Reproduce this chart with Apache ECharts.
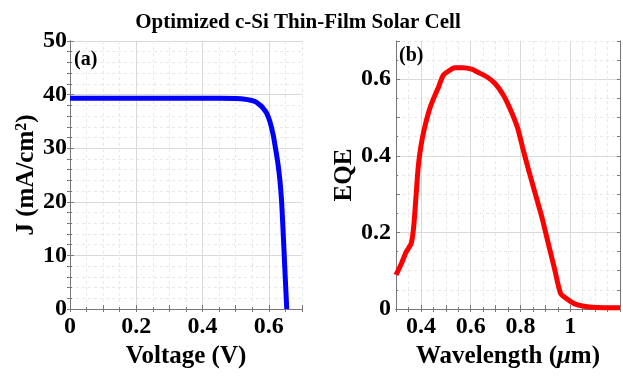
<!DOCTYPE html>
<html>
<head>
<meta charset="utf-8">
<script src="https://cdn.jsdelivr.net/npm/echarts@6/dist/echarts.min.js"></script>
<style>
  html, body { margin: 0; padding: 0; background: #fff; }
  #chart { width: 623px; height: 377px; }
</style>
</head>
<body>
<div id="chart"></div>
<script>
// J-V characteristic
const voltage = [0, 0.1, 0.2, 0.3, 0.4, 0.45, 0.5, 0.528, 0.545, 0.558, 0.568, 0.578, 0.586, 0.593, 0.603, 0.613, 0.620, 0.627, 0.633, 0.638, 0.643, 0.648, 0.654];
const currentDensity = [39.3, 39.3, 39.3, 39.3, 39.3, 39.3, 39.25, 39.15, 38.95, 38.7, 38.3, 37.8, 37.2, 36.6, 35.0, 32.5, 30.0, 27.3, 24.2, 20.5, 14.5, 7.8, 0];

// External quantum efficiency spectrum
const wavelength = [0.30, 0.322, 0.341, 0.361, 0.371, 0.380, 0.389, 0.399, 0.413, 0.432, 0.451, 0.471, 0.490, 0.510, 0.535, 0.568, 0.607, 0.627, 0.666, 0.698, 0.731, 0.763, 0.789, 0.809, 0.834, 0.860, 0.886, 0.912, 0.938, 0.961, 0.983, 1.016, 1.055, 1.106, 1.2];
const eqe = [0.089, 0.119, 0.149, 0.171, 0.214, 0.291, 0.369, 0.421, 0.468, 0.516, 0.550, 0.580, 0.611, 0.621, 0.630, 0.630, 0.626, 0.619, 0.606, 0.589, 0.559, 0.516, 0.472, 0.421, 0.360, 0.300, 0.240, 0.171, 0.102, 0.041, 0.028, 0.014, 0.007, 0.004, 0.003];

// Labelled tick values
const voltageTicks = [0, 0.2, 0.4, 0.6];
const currentTicks = [0, 10, 20, 30, 40, 50];
const wavelengthTicks = [0.4, 0.6, 0.8, 1];
const eqeTicks = [0, 0.2, 0.4, 0.6];

const FONT = '"Liberation Serif", "Times New Roman", serif';
const AXIS_COLOR = '#777';
const MAJOR = '#d9d9d9';
const MINOR = '#e8e8e8';
const NONE = 'rgba(0,0,0,0)';

function tickFormatter(ticks) {
  return function (v) {
    const hit = ticks.find(t => Math.abs(t - v) < 1e-6);
    return hit === undefined ? '' : String(hit);
  };
}

const labelStyle = { fontFamily: FONT, fontWeight: 'bold', fontSize: 24, color: '#000' };
const nameStyle = { fontFamily: FONT, fontWeight: 'bold', fontSize: 25, color: '#000' };

function mainAxis(opts) {
  return Object.assign({
    type: 'value',
    axisLine: { show: true, lineStyle: { color: AXIS_COLOR, width: 1 } },
    axisTick: { show: true, inside: true, length: 4, lineStyle: { color: AXIS_COLOR } },
    minorTick: { show: true, length: 2, lineStyle: { color: AXIS_COLOR } },
    splitLine: { show: true, lineStyle: { width: 1 } },
    axisLabel: Object.assign({ showMinLabel: true, showMaxLabel: true }, labelStyle),
    nameLocation: 'middle',
    nameTextStyle: nameStyle
  }, opts);
}

function minorAxis(opts, colors) {
  return Object.assign({
    type: 'value',
    axisLine: { show: true, lineStyle: { color: AXIS_COLOR, width: 1 } },
    axisTick: { show: true, inside: true, length: 3, lineStyle: { color: AXIS_COLOR } },
    axisLabel: { show: false },
    splitLine: { show: true, lineStyle: { color: colors, type: [3, 3], width: 1 } }
  }, opts);
}

const chart = echarts.init(document.getElementById('chart'), null, { renderer: 'canvas' });

const xLeft = mainAxis({
  gridIndex: 0, position: 'bottom', min: 0, max: 0.7, interval: 0.1,
  name: 'Voltage (V)', nameGap: 25
});
xLeft.axisLabel.formatter = tickFormatter(voltageTicks);
xLeft.axisLabel.margin = 6;
xLeft.splitLine.lineStyle.color = [MAJOR, NONE];
xLeft.minorTick.splitNumber = 2;

const yLeft = mainAxis({
  gridIndex: 0, position: 'left', min: 0, max: 50, interval: 10,
  name: 'J (mA/cm{sup|2})', nameGap: 28
});
yLeft.axisLabel.formatter = tickFormatter(currentTicks);
yLeft.axisLabel.margin = 3;
yLeft.splitLine.lineStyle.color = MAJOR;
yLeft.minorTick.splitNumber = 5;
yLeft.nameTextStyle = Object.assign({}, nameStyle, {
  rich: { sup: { fontFamily: FONT, fontWeight: 'bold', fontSize: 16, verticalAlign: 'top', color: '#000' } }
});

const xRight = mainAxis({
  gridIndex: 1, position: 'bottom', min: 0.3, max: 1.2, interval: 0.1,
  name: 'Wavelength ({mu|\u03bc}m)', nameGap: 25
});
xRight.axisLabel.formatter = tickFormatter(wavelengthTicks);
xRight.axisLabel.margin = 6;
xRight.splitLine.lineStyle.color = [NONE, MAJOR];
xRight.minorTick.splitNumber = 2;
xRight.nameTextStyle = Object.assign({}, nameStyle, {
  rich: { mu: { fontFamily: FONT, fontWeight: 'bold', fontStyle: 'italic', fontSize: 25, color: '#000' } }
});

const yRight = mainAxis({
  gridIndex: 1, position: 'left', min: 0, max: 0.7, interval: 0.1,
  name: 'EQE', nameGap: 39
});
yRight.axisLabel.formatter = tickFormatter(eqeTicks);
yRight.axisLabel.margin = 5;
yRight.splitLine.lineStyle.color = [MAJOR, NONE];
yRight.minorTick.splitNumber = 2;

const option = {
  backgroundColor: '#fff',
  animation: false,
  title: {
    text: 'Optimized c-Si Thin-Film Solar Cell',
    left: 293, top: 7, textAlign: 'center',
    textStyle: { fontFamily: FONT, fontWeight: 'bold', fontSize: 21, color: '#000' }
  },
  grid: [
    { left: 70, top: 41, right: 321, bottom: 68 },
    { left: 396, top: 41, right: -6, bottom: 68 }
  ],
  xAxis: [
    xLeft,
    minorAxis({ gridIndex: 0, position: 'top', min: 0, max: 0.7, interval: 0.05 }, [NONE, MINOR, MINOR, MINOR]),
    xRight,
    minorAxis({ gridIndex: 1, position: 'top', min: 0.3, max: 1.2, interval: 0.05 }, [MINOR, MINOR, NONE, MINOR])
  ],
  yAxis: [
    yLeft,
    minorAxis({ gridIndex: 0, position: 'right', min: 0, max: 50, interval: 2 }, [NONE, MINOR, MINOR, MINOR, MINOR]),
    yRight,
    minorAxis({ gridIndex: 1, position: 'right', min: 0, max: 0.7, interval: 0.05 }, [NONE, MINOR, MINOR, MINOR])
  ],
  graphic: [
    {
      type: 'text', left: 74, top: 50, z: 100,
      style: { text: '(a)', fontFamily: FONT, fontWeight: 'bold', fontSize: 20, fill: '#000' }
    },
    {
      type: 'text', left: 399, top: 46, z: 100,
      style: { text: '(b)', fontFamily: FONT, fontWeight: 'bold', fontSize: 20, fill: '#000' }
    }
  ],
  series: [
    {
      type: 'line', xAxisIndex: 0, yAxisIndex: 0,
      data: voltage.map((v, i) => [v, currentDensity[i]]),
      showSymbol: false, smooth: 0.3,
      lineStyle: { color: '#0000ff', width: 5 }, z: 5
    },
    {
      type: 'line', xAxisIndex: 2, yAxisIndex: 2,
      data: wavelength.map((w, i) => [w, eqe[i]]),
      showSymbol: false, smooth: 0.2,
      lineStyle: { color: '#ff0000', width: 5 }, z: 5
    }
  ]
};

chart.setOption(option);
</script>
</body>
</html>
